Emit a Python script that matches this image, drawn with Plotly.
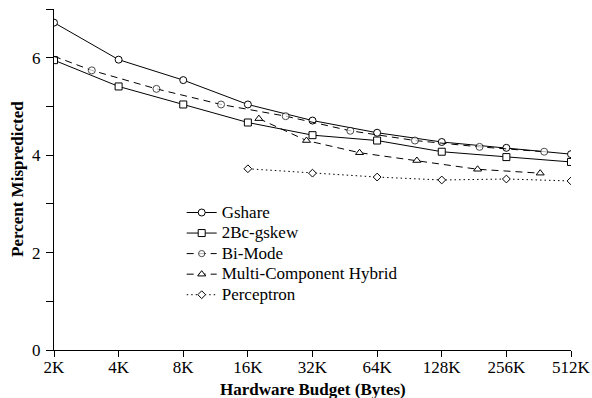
import plotly.graph_objects as go

# Data (hardware budget in KB, percent mispredicted)
budget = [2, 4, 8, 16, 32, 64, 128, 256, 512]
gshare = [6.72, 5.96, 5.54, 5.04, 4.71, 4.46, 4.27, 4.15, 4.02]
gskew = [5.95, 5.41, 5.04, 4.67, 4.41, 4.30, 4.07, 3.96, 3.86]

bimode_x = [2, 3, 6, 12, 24, 48, 96, 192, 384]
bimode = [6.03, 5.74, 5.36, 5.04, 4.80, 4.50, 4.30, 4.17, 4.07]

hybrid_x = [18, 30, 53, 98, 188, 368]
hybrid = [4.75, 4.30, 4.05, 3.89, 3.71, 3.63]

perc_x = [16, 32, 64, 128, 256, 512]
perceptron = [3.72, 3.63, 3.55, 3.49, 3.51, 3.47]

tick_vals = [2, 4, 8, 16, 32, 64, 128, 256, 512]
tick_text = ["2K", "4K", "8K", "16K", "32K", "64K", "128K", "256K", "512K"]
y_vals = [0, 1, 2, 3, 4, 5, 6, 7]
y_text = ["0", "", "2", "", "4", "", "6", ""]

FONT = "Liberation Serif, Times New Roman, serif"
mk = dict(color="white", line=dict(color="black", width=1))


def lg(name):
    return '<span style="font-size:17px">' + name + "</span>"


fig = go.Figure()
fig.add_trace(go.Scatter(x=budget, y=gshare, name=lg("Gshare"), mode="lines+markers",
                         line=dict(color="black", width=1),
                         marker=dict(symbol="circle", size=7, **mk)))
fig.add_trace(go.Scatter(x=budget, y=gskew, name=lg("2Bc-gskew"), mode="lines+markers",
                         line=dict(color="black", width=1),
                         marker=dict(symbol="square", size=7, **mk)))
fig.add_trace(go.Scatter(x=bimode_x, y=bimode, name=lg("Bi-Mode"), mode="lines+markers",
                         line=dict(color="black", width=1, dash="7px,5px"),
                         marker=dict(symbol="circle", size=[0] + [7] * (len(bimode_x) - 1), **mk)))
fig.add_trace(go.Scatter(x=hybrid_x, y=hybrid, name=lg("Multi-Component Hybrid"), mode="lines+markers",
                         line=dict(color="black", width=1, dash="7px,5px"),
                         marker=dict(symbol="triangle-up", size=7, **mk)))
fig.add_trace(go.Scatter(x=perc_x, y=perceptron, name=lg("Perceptron"), mode="lines+markers",
                         line=dict(color="black", width=1, dash="1.5px,3px"),
                         marker=dict(symbol="diamond", size=6, **mk)))

fig.update_layout(
    width=592, height=398,
    margin=dict(l=54, r=21, t=9, b=48),
    plot_bgcolor="white", paper_bgcolor="white",
    font=dict(family=FONT, size=17, color="black"),
    showlegend=True,
    legend=dict(x=0.247, y=0.448, xanchor="left", yanchor="top",
                bgcolor="rgba(255,255,255,0)", font=dict(family=FONT, size=13.5),
                itemwidth=30, tracegroupgap=0),
    annotations=[
        dict(text="<b>Hardware Budget (Bytes)</b>", xref="paper", yref="paper",
             x=0.5, y=0, xanchor="center", yanchor="middle", yshift=-39,
             showarrow=False, font=dict(size=17)),
        dict(text="<b>Percent Mispredicted</b>", xref="paper", yref="paper",
             x=0, y=0.5, xanchor="center", yanchor="middle", xshift=-36.5,
             textangle=-90, showarrow=False, font=dict(size=17)),
    ],
)
fig.update_xaxes(
    type="log", range=[0.30103, 2.70927], tickvals=tick_vals, ticktext=tick_text,
    showgrid=False, zeroline=False, showline=True, linecolor="black", linewidth=1,
    ticks="outside", ticklen=6, tickcolor="black", automargin=False,
    ticklabelstandoff=-4, tickfont=dict(size=17),
)
fig.update_yaxes(
    range=[0, 7], tickvals=y_vals, ticktext=y_text, showgrid=False, zeroline=False,
    showline=True, linecolor="black", linewidth=1,
    ticks="outside", ticklen=7, tickcolor="black", automargin=False,
    ticklabelstandoff=2, tickfont=dict(size=17),
)

fig.write_html("out.html", config={"displayModeBar": False},
               post_script="document.body.style.margin='0';")
